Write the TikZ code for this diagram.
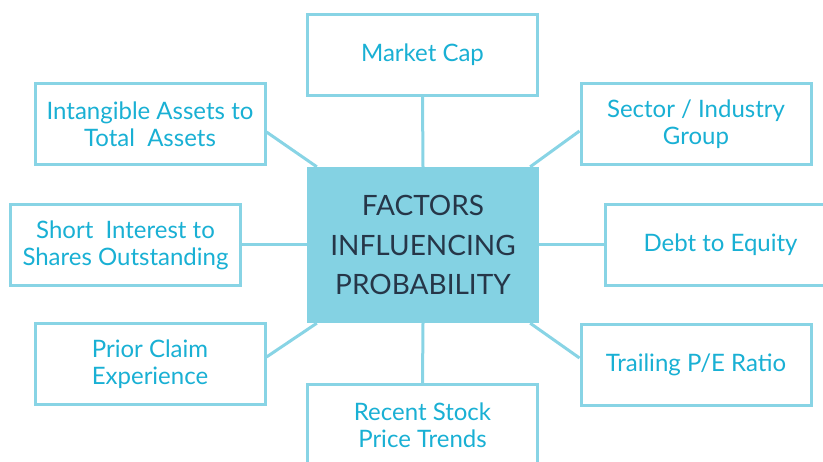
\documentclass[tikz,border=0pt]{standalone}
\usepackage{fontspec}
\setmainfont{Lato}
\usetikzlibrary{positioning}
\definecolor{ink}{HTML}{263648}
\definecolor{label}{HTML}{19B0D4}
\definecolor{edge}{HTML}{88D4E5}
\definecolor{hubfill}{HTML}{84D2E3}
\newcommand{\factorfont}{\fontsize{24}{27}\selectfont}
\newcommand{\hubfont}{\fontsize{28}{39.5}\selectfont}
\tikzset{
 factor/.style={draw=edge,fill=white,line width=3pt,minimum width=230pt,minimum height=81pt,
   inner sep=2pt,align=center,font=\factorfont,text=label},
 hub/.style={fill=hubfill,minimum width=232pt,minimum height=156pt,align=center,
   font=\hubfont,text=ink},
 link/.style={draw=edge,line width=3pt},
}

\begin{document}
\begin{tikzpicture}[x=1pt,y=-1pt]
\useasboundingbox (0,0) rectangle (823,462);
\clip (0,0) rectangle (823,462);

\node[hub] (hub) at (423,245) {FACTORS\\INFLUENCING\\PROBABILITY};

\node[factor] (cap) at (422.5,55) {Market Cap};
\node[factor] (intangible) at (150,124) {Intangible Assets to\\Total\ \ Assets};
\node[factor] (sector) at (696,124) {Sector / Industry\\Group};
\node[factor] (short) at (125.5,245) {Short\ \ Interest to\\Shares Outstanding};
\node[factor] (debt) at (720.5,245) {Debt to Equity};
\node[factor] (claim) at (150,364.5) {Prior Claim\\Experience};
\node[factor] (pe) at (696,365) {Trailing P/E Ratio};
\node[factor] (trend) at (422.5,425) {Recent Stock\\Price Trends};

% spokes from each factor to the hub
\draw[link] (cap.south) -- (hub.north);
\draw[link] (trend.north) -- (hub.south);
\draw[link] (short.east) -- (hub.west);
\draw[link] (debt.west) -- (hub.east);
\draw[link] ([yshift=-8pt]intangible.east) -- ([xshift=10pt]hub.north west);
\draw[link] ([yshift=-7pt]sector.west) -- ([xshift=-9pt]hub.north east);
\draw[link] ([yshift=7.5pt]claim.east) -- ([xshift=10pt]hub.south west);
\draw[link] ([yshift=7pt]pe.west) -- ([xshift=-9pt]hub.south east);

\end{tikzpicture}
\end{document}
